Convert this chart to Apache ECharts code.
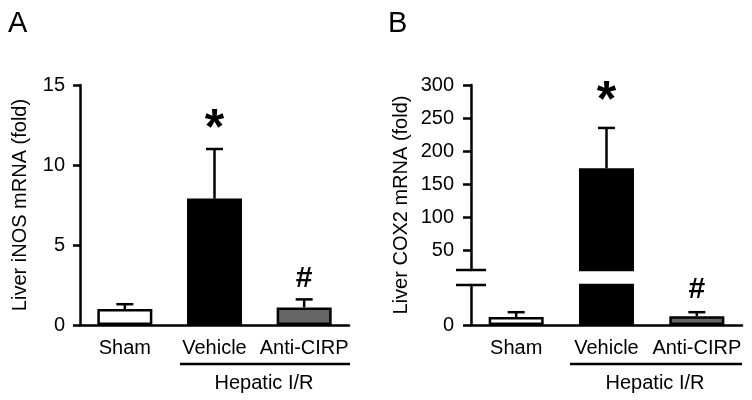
<!DOCTYPE html>
<html>
<head>
<meta charset="utf-8">
<script src="https://cdn.jsdelivr.net/npm/echarts@6/dist/echarts.min.js"></script>
<style>
  html, body { margin: 0; padding: 0; background: #fff; }
  #chart { width: 752px; height: 400px; }
</style>
</head>
<body>
<div id="chart"></div>
<script>
// data
const categories = ['Sham', 'Vehicle', 'Anti-CIRP'];
const inosMean = [1.0, 7.9, 1.1];
const inosErr = [0.3, 3.1, 0.5];
const cox2Mean = [1.0, 174, 1.1];
const cox2Err = [0.6, 61, 0.5];
const marks = ['', '*', '#'];
const inosTicks = [0, 5, 10, 15];
const cox2UpperTicks = [50, 100, 150, 200, 250, 300];
const cox2LowerTicks = [0];

const FONT = 'Liberation Sans, Arial, sans-serif';
const barColors = ['#ffffff', '#000000', '#666666'];
const LW = 2.5;

var chart = echarts.init(document.getElementById('chart'));

function barData(vals) {
  return vals.map((v, i) => ({
    value: v,
    itemStyle: { color: barColors[i], borderColor: '#000', borderWidth: LW }
  }));
}

function errData(mean, err) {
  return mean.map((m, i) => [i, m, err[i]]);
}

// error bar + significance mark, drawn only where it fits the grid
function errorItem(gap) {
  return function (params, api) {
    const i = api.value(0);
    const m = api.value(1);
    const e = api.value(2);
    const base = api.coord([i, m]);
    const tip = api.coord([i, m + e]);
    const cs = params.coordSys;
    if (base[1] < cs.y - 1 || base[1] > cs.y + cs.height + 1) return;
    const mark = marks[params.dataIndex];
    const ls = { stroke: '#000', lineWidth: LW };
    const kids = [
      { type: 'line', shape: { x1: tip[0], y1: base[1], x2: tip[0], y2: tip[1] }, style: ls },
      { type: 'line', shape: { x1: tip[0] - 8.5, y1: tip[1], x2: tip[0] + 8.5, y2: tip[1] }, style: ls }
    ];
    if (mark) {
      const star = mark === '*';
      kids.push({
        type: 'text',
        x: tip[0],
        y: tip[1] - (star ? gap.star : gap.hash),
        style: {
          text: mark,
          fill: '#000',
          font: 'bold ' + (star ? 50 : 30) + 'px ' + FONT,
          textAlign: 'center',
          textVerticalAlign: 'middle'
        }
      });
    }
    return { type: 'group', children: kids };
  };
}

const axisLine = { show: true, lineStyle: { color: '#000', width: LW } };
const labelStyle = { color: '#000', fontSize: 20, fontFamily: FONT };

const xCat = (grid, showLabels) => ({
  type: 'category',
  gridIndex: grid,
  data: categories,
  axisLine: showLabels ? axisLine : { show: false },
  axisTick: { show: false },
  axisLabel: Object.assign({ show: showLabels, interval: 0, margin: 13 }, labelStyle),
  splitLine: { show: false }
});

var option = {
  animation: false,
  grid: [
    { left: 80, top: 85, width: 269, height: 240 },
    { left: 471, top: 85, width: 271, height: 185 },
    { left: 471, top: 285, width: 271, height: 40 }
  ],
  xAxis: [xCat(0, true), xCat(1, false), xCat(2, true)],
  yAxis: [
    {
      type: 'value', gridIndex: 0, min: 0, max: 15, interval: 5,
      name: 'Liver iNOS mRNA (fold)', nameLocation: 'middle', nameGap: 50,
      nameTextStyle: { color: '#000', fontSize: 20, fontFamily: FONT },
      axisLine: axisLine,
      axisTick: { show: true, length: 7, lineStyle: { color: '#000', width: LW } },
      axisLabel: Object.assign({ margin: 15, customValues: inosTicks }, labelStyle),
      splitLine: { show: false }
    },
    {
      type: 'value', gridIndex: 1, min: 20, max: 300,
      axisLine: axisLine,
      axisTick: { show: true, length: 8, customValues: cox2UpperTicks, lineStyle: { color: '#000', width: LW } },
      axisLabel: Object.assign({ margin: 17, customValues: cox2UpperTicks }, labelStyle),
      splitLine: { show: false }
    },
    {
      type: 'value', gridIndex: 2, min: 0, max: 5,
      axisLine: axisLine,
      axisTick: { show: true, length: 8, customValues: cox2LowerTicks, lineStyle: { color: '#000', width: LW } },
      axisLabel: Object.assign({ margin: 17, customValues: cox2LowerTicks }, labelStyle),
      splitLine: { show: false }
    }
  ],
  series: [
    { type: 'bar', xAxisIndex: 0, yAxisIndex: 0, barWidth: 55, data: barData(inosMean) },
    { type: 'custom', xAxisIndex: 0, yAxisIndex: 0, renderItem: errorItem({ star: 19, hash: 21 }), data: errData(inosMean, inosErr), z: 3 },
    { type: 'bar', xAxisIndex: 1, yAxisIndex: 1, barWidth: 55, data: barData(cox2Mean) },
    { type: 'custom', xAxisIndex: 1, yAxisIndex: 1, renderItem: errorItem({ star: 26, hash: 22 }), data: errData(cox2Mean, cox2Err), z: 3 },
    { type: 'bar', xAxisIndex: 2, yAxisIndex: 2, barWidth: 55, data: barData(cox2Mean) },
    { type: 'custom', xAxisIndex: 2, yAxisIndex: 2, renderItem: errorItem({ star: 26, hash: 22 }), data: errData(cox2Mean, cox2Err), z: 3 }
  ],
  graphic: [
    { type: 'text', left: 8, top: 9, style: { text: 'A', fill: '#000', font: '29px ' + FONT } },
    { type: 'text', left: 388, top: 9, style: { text: 'B', fill: '#000', font: '29px ' + FONT } },
    // axis break marks
    { type: 'line', shape: { x1: 456, y1: 270, x2: 486, y2: 270 }, style: { stroke: '#000', lineWidth: LW } },
    { type: 'line', shape: { x1: 456, y1: 285, x2: 486, y2: 285 }, style: { stroke: '#000', lineWidth: LW } },
    // panel B axis title
    {
      type: 'text', x: 401, y: 205, rotation: Math.PI / 2,
      style: { text: 'Liver COX2 mRNA (fold)', fill: '#000', font: '20px ' + FONT, textAlign: 'center', textVerticalAlign: 'middle' }
    },
    // Hepatic I/R brackets
    { type: 'line', shape: { x1: 180, y1: 364, x2: 350, y2: 364 }, style: { stroke: '#000', lineWidth: LW } },
    { type: 'text', x: 264, y: 383, style: { text: 'Hepatic I/R', fill: '#000', font: '20px ' + FONT, textAlign: 'center', textVerticalAlign: 'middle' } },
    { type: 'line', shape: { x1: 570, y1: 364, x2: 742, y2: 364 }, style: { stroke: '#000', lineWidth: LW } },
    { type: 'text', x: 655, y: 383, style: { text: 'Hepatic I/R', fill: '#000', font: '20px ' + FONT, textAlign: 'center', textVerticalAlign: 'middle' } }
  ]
};

chart.setOption(option);
</script>
</body>
</html>
